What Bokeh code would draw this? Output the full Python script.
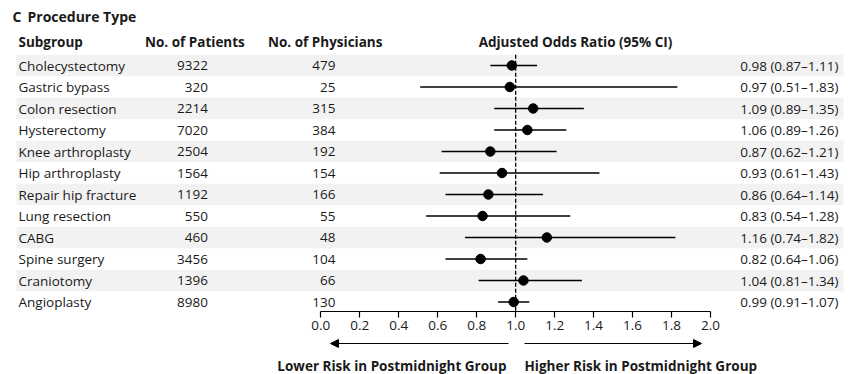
from bokeh.plotting import figure
from bokeh.layouts import column
from bokeh.models import (Range1d, LinearAxis, FixedTicker, NumeralTickFormatter,
                          Arrow, NormalHead, ColumnDataSource)
from bokeh.core.properties import value
from bokeh.embed import file_html
from bokeh.resources import INLINE

# ---------------- data ----------------
title_letter = "C"
title_text = "Procedure Type"
headers = ["Subgroup", "No. of Patients", "No. of Physicians", "Adjusted Odds Ratio (95% CI)"]
subgroups = ["Cholecystectomy", "Gastric bypass", "Colon resection", "Hysterectomy",
             "Knee arthroplasty", "Hip arthroplasty", "Repair hip fracture", "Lung resection",
             "CABG", "Spine surgery", "Craniotomy", "Angioplasty"]
patients = [9322, 320, 2214, 7020, 2504, 1564, 1192, 550, 460, 3456, 1396, 8980]
physicians = [479, 25, 315, 384, 192, 154, 166, 55, 48, 104, 66, 130]
odds_ratio = [0.98, 0.97, 1.09, 1.06, 0.87, 0.93, 0.86, 0.83, 1.16, 0.82, 1.04, 0.99]
ci_low = [0.87, 0.51, 0.89, 0.89, 0.62, 0.61, 0.64, 0.54, 0.74, 0.64, 0.81, 0.91]
ci_high = [1.11, 1.83, 1.35, 1.26, 1.21, 1.43, 1.14, 1.28, 1.82, 1.06, 1.34, 1.07]
tick_values = [0.0, 0.2, 0.4, 0.6, 0.8, 1.0, 1.2, 1.4, 1.6, 1.8, 2.0]
reference_value = 1.0
left_note = "Lower Risk in Postmidnight Group"
right_note = "Higher Risk in Postmidnight Group"

# ---------------- layout ----------------
W = 854
H1 = 338          # main figure (table + axis)
H2 = 36           # bottom strip (arrows + notes)
FRAME_H = 311     # axis line position
ROW0 = 65.0
PITCH = 21.5
X0_PX, X2_PX = 320.33, 710.0
scale = (X2_PX - X0_PX) / 2.0
FONT = value("Open Sans")
TXT = "#1a1a1a"
FS = "13.5px"

n = len(subgroups)
rows = list(range(n))

p = figure(width=W, height=H1, output_backend="svg", toolbar_location=None,
           x_axis_type=None, y_axis_type=None,
           x_range=Range1d(-X0_PX / scale, (W - X0_PX) / scale),
           y_range=Range1d((FRAME_H - ROW0) / PITCH, -ROW0 / PITCH),
           min_border_left=0, min_border_right=0, min_border_top=0,
           min_border_bottom=H1 - FRAME_H)
p.outline_line_color = None
p.xgrid.visible = False
p.ygrid.visible = False
p.background_fill_color = "white"
p.border_fill_color = "white"
p.extra_x_ranges = {"px": Range1d(0, W)}
p.extra_y_ranges = {"py": Range1d(FRAME_H, 0)}

# alternating bands
band_rows = rows[::2]
p.hbar(y=band_rows, height=1.0, left=16, right=843, x_range_name="px",
       fill_color="#f2f2f2", line_color=None)

# reference dashed line
p.segment(x0=[reference_value], y0=[-0.5], x1=[reference_value], y1=[n],
          line_color="black", line_width=1.3, line_dash="4 2")

# CIs and points
src = ColumnDataSource(dict(
    y=rows, sub=subgroups,
    pat=[str(v) for v in patients], phy=[str(v) for v in physicians],
    orr=odds_ratio, lo=ci_low, hi=ci_high,
    lab=[f"{o:.2f} ({l:.2f}\u2013{h:.2f})" for o, l, h in zip(odds_ratio, ci_low, ci_high)]))
p.segment(x0="lo", y0="y", x1="hi", y1="y", source=src, line_color="black", line_width=1.4)
p.scatter(x="orr", y="y", source=src, size=9.5, fill_color="black", line_color="black")

# table text
p.text(x=18, y="y", text="sub", source=src, x_range_name="px", text_font=FONT,
       text_font_size=FS, text_color=TXT, text_baseline="middle", text_align="left")
p.text(x=207.5, y="y", text="pat", source=src, x_range_name="px", text_font=FONT,
       text_font_size=FS, text_color=TXT, text_baseline="middle", text_align="right")
p.text(x=335, y="y", text="phy", source=src, x_range_name="px", text_font=FONT,
       text_font_size=FS, text_color=TXT, text_baseline="middle", text_align="right")
p.text(x=838, y="y", text="lab", source=src, x_range_name="px", text_font=FONT,
       text_font_size=FS, text_color=TXT, text_baseline="middle", text_align="right")

# headers
hdr_x = [18, 144.5, 267.5, 575]
hdr_align = ["left", "left", "left", "center"]
for hx, ht, ha in zip(hdr_x, headers, hdr_align):
    p.text(x=[hx], y=[41], text=[ht], x_range_name="px", y_range_name="py",
           text_font=FONT, text_font_size=FS, text_font_style="bold", text_color=TXT,
           text_baseline="middle", text_align=ha)
p.text(x=[12], y=[16], text=[title_letter], x_range_name="px", y_range_name="py",
       text_font=FONT, text_font_size="14px", text_font_style="bold", text_color=TXT,
       text_baseline="middle", text_align="left")
p.text(x=[27], y=[16], text=[title_text], x_range_name="px", y_range_name="py",
       text_font=FONT, text_font_size="14px", text_font_style="bold", text_color=TXT,
       text_baseline="middle", text_align="left")

# x axis
ax = LinearAxis(ticker=FixedTicker(ticks=tick_values),
                formatter=NumeralTickFormatter(format="0.0"),
                bounds=(tick_values[0], tick_values[-1]))
ax.axis_line_color = "black"
ax.axis_line_width = 1.2
ax.major_tick_line_color = "black"
ax.major_tick_line_width = 1.2
ax.major_tick_in = 0
ax.major_tick_out = 6
ax.minor_tick_line_color = None
ax.major_label_standoff = 3
ax.major_label_text_font = "Open Sans"
ax.major_label_text_font_size = FS
ax.major_label_text_color = TXT
p.add_layout(ax, "below")

# ---------------- bottom strip: direction arrows and notes ----------------
q = figure(width=W, height=H2, output_backend="svg", toolbar_location=None,
           x_axis_type=None, y_axis_type=None,
           x_range=Range1d(0, W), y_range=Range1d(H2, 0),
           min_border_left=0, min_border_right=0, min_border_top=0, min_border_bottom=0)
q.outline_line_color = None
q.xgrid.visible = False
q.ygrid.visible = False
q.background_fill_color = "white"
q.border_fill_color = "white"

ARROW_Y = 5
q.add_layout(Arrow(x_start=508, y_start=ARROW_Y, x_end=330, y_end=ARROW_Y, line_width=1.2,
                   line_color="black",
                   end=NormalHead(size=8, fill_color="black", line_color="black")))
q.add_layout(Arrow(x_start=524, y_start=ARROW_Y, x_end=701, y_end=ARROW_Y, line_width=1.2,
                   line_color="black",
                   end=NormalHead(size=8, fill_color="black", line_color="black")))
q.text(x=[506], y=[27], text=[left_note], text_font=FONT, text_font_size="13.5px",
       text_font_style="bold", text_color=TXT, text_align="right", text_baseline="middle")
q.text(x=[524], y=[27], text=[right_note], text_font=FONT, text_font_size="13.5px",
       text_font_style="bold", text_color=TXT, text_align="left", text_baseline="middle")

layout = column(p, q, spacing=0)
open("out.html", "w").write(file_html(layout, INLINE))
